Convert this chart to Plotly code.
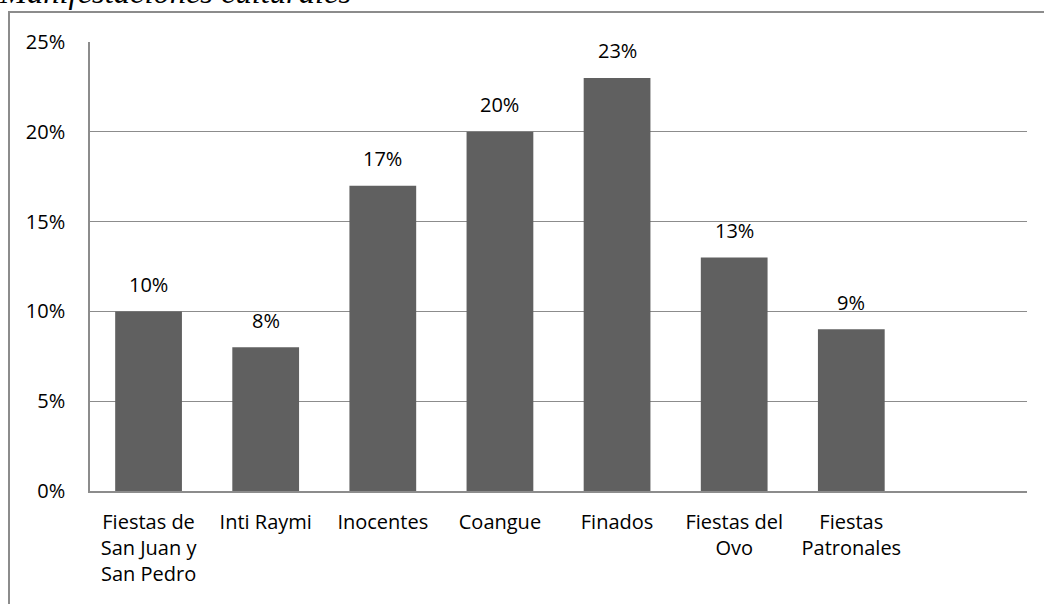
import plotly.graph_objects as go

categories = ["Fiestas de<br>San Juan y<br>San Pedro", "Inti Raymi", "Inocentes", "Coangue",
              "Finados", "Fiestas del<br>Ovo", "Fiestas<br>Patronales"]
values = [10, 8, 17, 20, 23, 13, 9]
labels = [f"{v}%" for v in values]
title_text = "Manifestaciones culturales"

W, H = 1044, 604
L, R, T, B = 90, 17, 42, 113
pw, ph = W - L - R, H - T - B
FONT = "Open Sans, Lato, sans-serif"
FS = 20

fig = go.Figure(go.Bar(
    x=categories, y=values,
    marker=dict(color="#606060", line=dict(width=0)),
    width=0.57, hoverinfo="x+y",
))

annotations = [dict(x=c, y=v, text=t, xref="x", yref="y", showarrow=False,
                    yanchor="middle", yshift=27,
                    font=dict(family=FONT, size=FS, color="#000000"))
               for c, v, t in zip(categories, values, labels)]
annotations.append(dict(text=title_text, xref="paper", yref="paper",
                        x=(-3 - L) / pw, y=1 + (T - 12) / ph, xanchor="left", yanchor="bottom",
                        showarrow=False,
                        font=dict(family="Liberation Serif, serif", size=32.5, color="#000000",
                                  style="italic")))

fig.update_layout(
    width=W, height=H, margin=dict(l=L, r=R, t=T, b=B, autoexpand=False),
    plot_bgcolor="white", paper_bgcolor="white", showlegend=False,
    font=dict(family=FONT, size=FS, color="#000000"),
    xaxis=dict(range=[-0.5, 7.5], showgrid=False, showline=True, linecolor="#8c8c8c",
               linewidth=1.5, ticks="", tickfont=dict(size=FS), ticklabelstandoff=12,
               automargin=False),
    yaxis=dict(range=[0, 25], dtick=5, ticksuffix="%", showgrid=True, gridcolor="#8c8c8c",
               gridwidth=1, showline=True, linecolor="#8c8c8c", linewidth=1.5,
               zeroline=False, ticks="", ticklabelstandoff=19, tickfont=dict(size=FS),
               automargin=False),
    annotations=annotations,
    shapes=[dict(type="rect", xref="paper", yref="paper",
                 x0=(9 - L) / pw, x1=1.2, y0=-0.5, y1=1 + (T - 12) / ph,
                 line=dict(color="#8c8c8c", width=2), layer="below")],
)

fig.write_html("out.html", config={"displayModeBar": False},
               post_script="document.body.style.margin='0';document.body.style.overflow='hidden';")
